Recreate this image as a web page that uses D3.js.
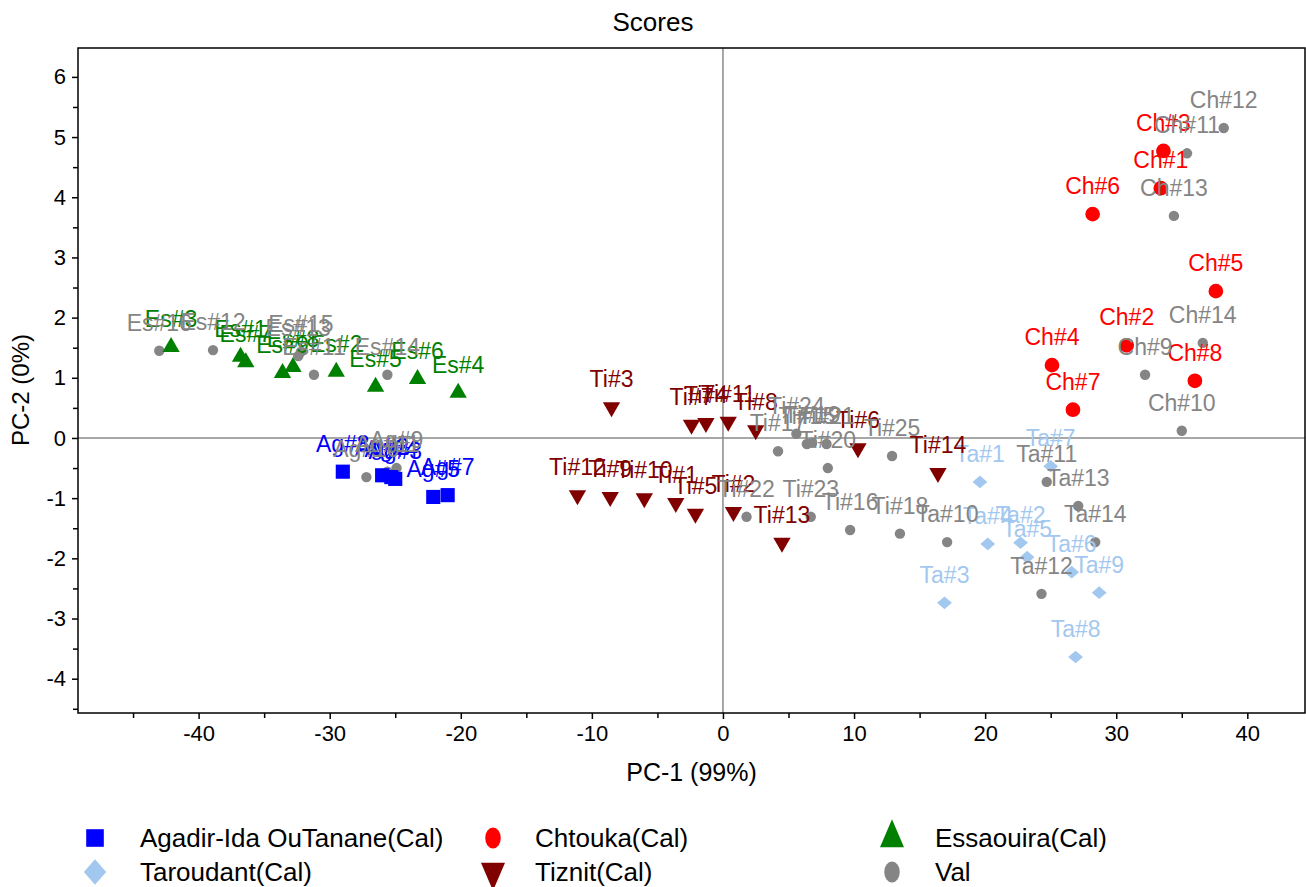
<!DOCTYPE html>
<html>
<head>
<meta charset="utf-8">
<title>Scores</title>
<script src="https://d3js.org/d3.v7.min.js"></script>
<style>
  body { margin: 0; background: #fff; }
  text { font-family: "Liberation Sans", Arial, sans-serif; }
</style>
</head>
<body>
<svg id="chart" width="1306" height="887"></svg>
<script>
// scores: [label, PC-1, PC-2]
var agadir = [
  ["Ag#8", -29.0, -0.56], ["Ag#2", -26.0, -0.62], ["Ag#4", -25.3, -0.65],
  ["Ag#3", -25.0, -0.68], ["Ag#5", -22.1, -0.98], ["Ag#7", -21.0, -0.95]
];
var chtouka = [
  ["Ch#3", 33.6, 4.77], ["Ch#1", 33.4, 4.15], ["Ch#6", 28.2, 3.72], ["Ch#5", 37.6, 2.44],
  ["Ch#2", 30.8, 1.54], ["Ch#4", 25.1, 1.21], ["Ch#8", 36.0, 0.95], ["Ch#7", 26.7, 0.47]
];
var essaouira = [
  ["Es#3", -42.1, 1.51], ["Es#1", -36.8, 1.35], ["Es#7", -36.4, 1.26], ["Es#9", -33.6, 1.08],
  ["Es#8", -32.8, 1.18], ["Es#2", -29.5, 1.10], ["Es#5", -26.5, 0.85], ["Es#6", -23.3, 0.98],
  ["Es#4", -20.2, 0.75]
];
var taroudant = [
  ["Ta#7", 25.0, -0.47], ["Ta#1", 19.6, -0.73], ["Ta#4", 20.2, -1.76], ["Ta#2", 22.7, -1.74],
  ["Ta#5", 23.2, -1.98], ["Ta#6", 26.6, -2.23], ["Ta#9", 28.7, -2.57], ["Ta#3", 16.9, -2.74],
  ["Ta#8", 26.9, -3.64]
];
var tiznit = [
  ["Ti#3", -8.5, 0.51], ["Ti#7", -2.4, 0.22], ["Ti#4", -1.3, 0.25], ["Ti#11", 0.4, 0.27],
  ["Ti#8", 2.5, 0.13], ["Ti#6", 10.3, -0.17], ["Ti#14", 16.4, -0.58], ["Ti#12", -11.1, -0.95],
  ["Ti#9", -8.6, -0.98], ["Ti#10", -6.0, -1.00], ["Ti#1", -3.6, -1.08], ["Ti#5", -2.1, -1.26],
  ["Ti#2", 0.8, -1.23], ["Ti#13", 4.5, -1.74]
];
var val = [
  ["Ag#10", -27.2, -0.65], ["Ag#11", -25.6, -0.56], ["Ag#9", -24.9, -0.50],
  ["Es#16", -43.0, 1.45], ["Es#12", -38.9, 1.46], ["Es#13", -32.4, 1.36], ["Es#15", -32.2, 1.43],
  ["Es#11", -31.2, 1.05], ["Es#14", -25.6, 1.05],
  ["Ch#12", 38.2, 5.15], ["Ch#11", 35.4, 4.73], ["Ch#13", 34.4, 3.69], ["Ch#14", 36.6, 1.58],
  ["Ch#9", 32.2, 1.05], ["Ch#10", 35.0, 0.12],
  ["Ti#17", 4.2, -0.22], ["Ti#24", 5.6, 0.07], ["Ti#15", 6.4, -0.10], ["Ti#19", 6.8, -0.08],
  ["Ti#21", 7.9, -0.10], ["Ti#20", 8.0, -0.50], ["Ti#25", 12.9, -0.30], ["Ti#22", 1.8, -1.31],
  ["Ti#23", 6.7, -1.31], ["Ti#16", 9.7, -1.53], ["Ti#18", 13.5, -1.59],
  ["Ta#11", 24.7, -0.73], ["Ta#13", 27.1, -1.13], ["Ta#14", 28.4, -1.73], ["Ta#12", 24.3, -2.59],
  ["Ta#10", 17.1, -1.73]
];

var xTicks = [-40, -30, -20, -10, 0, 10, 20, 30, 40];
var yTicks = [-4, -3, -2, -1, 0, 1, 2, 3, 4, 5, 6];

var groups = [
  {name: "Val", data: val, color: "#858585", shape: "circle", size: 85},
  {name: "Agadir-Ida OuTanane(Cal)", data: agadir, color: "#0000ff", shape: "square", size: 200},
  {name: "Chtouka(Cal)", data: chtouka, color: "#ff0000", shape: "circle", size: 170},
  {name: "Essaouira(Cal)", data: essaouira, color: "#008000", shape: "triangle", size: 130},
  {name: "Taroudant(Cal)", data: taroudant, color: "#a3c8f0", shape: "diamond", size: 110},
  {name: "Tiznit(Cal)", data: tiznit, color: "#800000", shape: "down", size: 130}
];

var pLeft = 78, pRight = 1305, pTop = 48, pBottom = 713;

var svg = d3.select("#chart");

var x = d3.scaleLinear().domain([-49.2, 44.4]).range([pLeft, pRight]);
var y = d3.scaleLinear().domain([-4.57, 6.48]).range([pBottom, pTop]);

function shapePath(shape, size) {
  var t = shape == "square" ? d3.symbolSquare
        : shape == "circle" ? d3.symbolCircle
        : shape == "diamond" ? d3.symbolSquare
        : d3.symbolTriangle;
  return d3.symbol().type(t).size(size)();
}
function shapeTransform(shape, sy) {
  sy = sy || 1;
  if (shape == "diamond") return "scale(1," + (0.85 * sy) + ") rotate(45)";
  if (shape == "down") return "scale(1," + sy + ") rotate(180)";
  return "scale(1," + sy + ")";
}

// title
svg.append("text").attr("x", 653).attr("y", 31)
  .attr("text-anchor", "middle").style("font-size", "26px").text("Scores");

// zero lines
svg.append("line").attr("x1", pLeft).attr("x2", pRight).attr("y1", y(0)).attr("y2", y(0))
  .attr("stroke", "#8a8a8a").attr("stroke-width", 1.5);
svg.append("line").attr("x1", x(0)).attr("x2", x(0)).attr("y1", pTop).attr("y2", pBottom)
  .attr("stroke", "#8a8a8a").attr("stroke-width", 1.5);

// axes
var fmt = function(d) { return String(d); };
svg.append("g").attr("transform", "translate(0," + pBottom + ")")
  .call(d3.axisBottom(x).tickValues(xTicks).tickSize(6).tickPadding(6).tickFormat(fmt));
svg.append("g").attr("transform", "translate(0," + pBottom + ")")
  .call(d3.axisBottom(x).tickValues(d3.range(-45, 45, 10)).tickSize(5).tickFormat(""));
svg.append("g").attr("transform", "translate(" + pLeft + ",0)")
  .call(d3.axisLeft(y).tickValues(yTicks).tickSize(6).tickPadding(6).tickFormat(fmt));
svg.append("g").attr("transform", "translate(" + pLeft + ",0)")
  .call(d3.axisLeft(y).tickValues(d3.range(-4.5, 6.4, 1)).tickSize(5).tickFormat(""));
svg.selectAll(".tick text").style("font-size", "22px").attr("fill", "#000")
  .style("font-family", "'Liberation Sans', Arial, sans-serif");
svg.selectAll(".tick line").attr("stroke-width", 1.5);
svg.selectAll(".domain").remove();

// frame
svg.append("rect").attr("x", pLeft).attr("y", pTop).attr("width", pRight - pLeft).attr("height", pBottom - pTop)
  .attr("fill", "none").attr("stroke", "#000").attr("stroke-width", 1.5);

// axis titles
svg.append("text").attr("x", (pLeft + pRight) / 2).attr("y", 781).attr("text-anchor", "middle")
  .style("font-size", "25px").text("PC-1 (99%)");
svg.append("text").attr("transform", "translate(29,390) rotate(-90)").attr("text-anchor", "middle")
  .style("font-size", "24px").text("PC-2 (0%)");

// markers
var plot = svg.append("g");
groups.forEach(function(g) {
  plot.selectAll(null).data(g.data).enter().append("path")
    .attr("d", shapePath(g.shape, g.size))
    .attr("transform", function(d) { return "translate(" + x(d[1]) + "," + y(d[2]) + ") " + shapeTransform(g.shape); })
    .attr("fill", g.color);
});

// point labels
var labelOrder = groups.slice(1).concat([groups[0]]);
labelOrder.forEach(function(g) {
  plot.selectAll(null).data(g.data).enter().append("text")
    .attr("x", function(d) { return x(d[1]); })
    .attr("y", function(d) { return y(d[2]) - 20; })
    .attr("text-anchor", "middle")
    .style("font-size", "23px")
    .attr("fill", g.color)
    .text(function(d) { return d[0]; });
});

// legend
var legendOrder = [groups[1], groups[2], groups[3], groups[4], groups[5], groups[0]];
var legendMarkX = [95, 493, 892], legendTextX = [140, 535, 935];
var legend = svg.append("g");
legendOrder.forEach(function(g, i) {
  var col = i % 3, row = Math.floor(i / 3);
  var ly = 838 + row * 34;
  var size = g.shape == "square" ? 310 : g.shape == "circle" ? 190 : 250;
  legend.append("path")
    .attr("d", shapePath(g.shape, size))
    .attr("transform", "translate(" + legendMarkX[col] + "," + ly + ") " + shapeTransform(g.shape, g.shape == "square" ? 1 : 1.35))
    .attr("fill", g.color);
  legend.append("text").attr("x", legendTextX[col]).attr("y", ly + 9)
    .style("font-size", "26px").text(g.name);
});
</script>
</body>
</html>
